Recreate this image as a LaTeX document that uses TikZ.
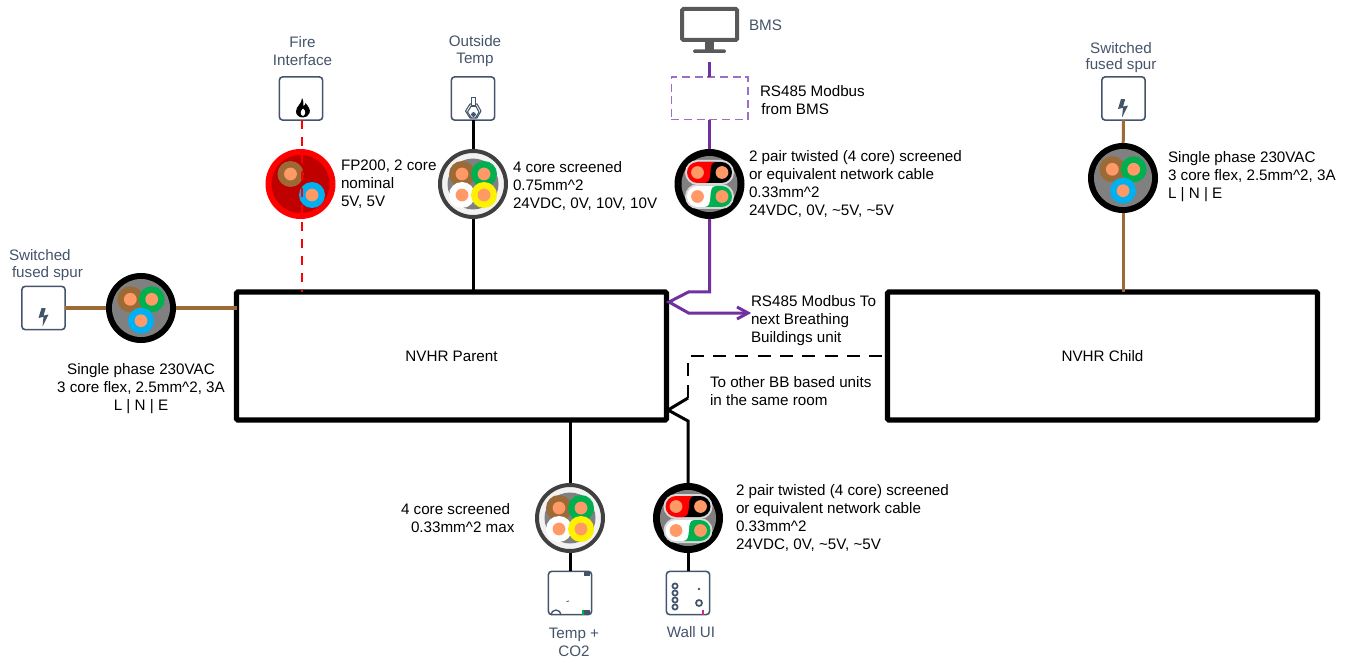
\documentclass[tikz,border=0pt]{standalone}
\usepackage{fontspec}
\setmainfont{Liberation Sans}
\definecolor{slate}{HTML}{44546A}
\definecolor{brn}{HTML}{9C6A36}
\definecolor{grn}{HTML}{00B050}
\definecolor{blu}{HTML}{00B0F0}
\definecolor{org}{HTML}{FF9966}
\definecolor{purp}{HTML}{7030A0}
\definecolor{lpurp}{HTML}{9A6FC4}
\definecolor{dred}{HTML}{C00000}
\definecolor{midg}{HTML}{808080}
\definecolor{ltg}{HTML}{F2F2F2}
\definecolor{capg}{HTML}{D9D9D9}
\definecolor{monc}{HTML}{595959}
\tikzset{
  every node/.style={font=\fontsize{11.4pt}{13.5pt}\selectfont, inner sep=0pt, outer sep=0pt},
  lbl/.style={anchor=west, align=left, text=black},
  lblc/.style={align=center, text=black},
  slbl/.style={align=center, text=slate},
  mainbox/.style={draw=black, line width=4pt, rounded corners=1pt, minimum width=322.5pt, minimum height=96pt},
  devbox/.style={draw=slate, line width=1.2pt, rounded corners=2.6pt, minimum width=32.5pt, minimum height=32.5pt},
  hub/.style={circle, minimum size=52.5pt},
  wbrown/.style={draw=brn, line width=2.25pt},
  wblack/.style={draw=black, line width=2.25pt},
  wpurple/.style={draw=purp, line width=2.25pt},
  wred/.style={draw=red, line width=1.5pt, dash pattern=on 6.75pt off 6pt},
  wdash/.style={draw=black, line width=1.5pt, dash pattern=on 9.75pt off 7pt},
  tinyic/.style={draw=slate, line width=.9pt},
}
\newcommand{\corewire}[3]{\fill[#3] (#1,#2) circle[radius=13];\fill[org] (#1,#2) circle[radius=6.4];}
\newcommand{\threecore}[3]{%
  \begin{scope}[shift={(#2,#3)}]
    \fill[black] (0,0) circle[radius=35];
    \fill[midg] (0,0) circle[radius=29];
    \corewire{-10.7}{-8.7}{brn}
    \corewire{10.7}{-8.7}{grn}
    \corewire{0}{12.7}{blu}
  \end{scope}
  \node[hub] (#1) at (#2,#3) {};}
\newcommand{\firecore}[3]{%
  \begin{scope}[shift={(#2,#3)}]
    \fill[red] (0,0) circle[radius=35];
    \fill[dred] (0,0) circle[radius=29];
    \corewire{-10}{-10}{brn}
    \corewire{11.5}{11}{blu}
  \end{scope}
  \node[hub] (#1) at (#2,#3) {};}
\newcommand{\fourcore}[3]{%
  \begin{scope}[shift={(#2,#3)}]
    \fill[ltg] (0,0) circle[radius=33];
    \draw[draw=black!75, line width=3pt] (0,0) circle[radius=33];
    \fill[midg] (0,0) circle[radius=25.5];
    \corewire{-11}{-10}{brn}
    \corewire{11}{-10}{grn}
    \corewire{-11}{11}{white}
    \corewire{11}{11}{yellow}
  \end{scope}
  \node[hub] (#1) at (#2,#3) {};}
\newcommand{\pairpart}[3]{% y-offset, left colour, right colour
  \fill[capg] (-12,#1-12.5) -- (12,#1-12.5) arc[start angle=-90,end angle=90,radius=12.5] -- (-12,#1+12.5) arc[start angle=90,end angle=270,radius=12.5] -- cycle;
  \fill[#3] (-12,#1-10.5) -- (12,#1-10.5) arc[start angle=-90,end angle=90,radius=10.5] -- (-12,#1+10.5) -- cycle;
  \fill[#2] (-12,#1-10.5) -- (6,#1-10.5) .. controls (-3,#1-10.5) and (5,#1+10.5) .. (-5,#1+10.5) -- (-12,#1+10.5) arc[start angle=90,end angle=270,radius=10.5] -- cycle;
  \fill[org] (-12,#1) circle[radius=6.4];
  \fill[org] (12.5,#1) circle[radius=6.4];}
\newcommand{\twisted}[3]{%
  \begin{scope}[shift={(#2,#3)}]
    \fill[black] (0,0) circle[radius=35];
    \fill[midg] (0,0) circle[radius=28];
    \pairpart{-11.5}{red}{black}
    \pairpart{12.5}{white}{grn}
  \end{scope}
  \node[hub] (#1) at (#2,#3) {};}
\newcommand{\boltat}[2]{%
  \begin{scope}[shift={(#1,#2)}]
    \fill[slate] (3,0) -- (0,10) -- (5,8.8) -- (4,18.5) -- (10,6.5) -- (5,7.6) -- (7.2,0.3) -- cycle;
  \end{scope}}
\begin{document}
\begin{tikzpicture}[x=.75pt,y=-.75pt]
\useasboundingbox (0,0) rectangle (1349,659);
% main boxes
\node[mainbox] (parent) at (451.5,356) {\raisebox{-1.1pt}{NVHR Parent}\hspace{3.5pt}};
\node[mainbox] (child) at (1102.5,356) {\raisebox{-1.1pt}{NVHR Child}\hspace{1.5pt}};
% device boxes
\node[devbox] (spurL) at (43.5,308) {};
\node[devbox] (fire) at (301,98.5) {};
\node[devbox] (otemp) at (473,98.5) {};
\node[devbox] (spurR) at (1123.5,98.5) {};
\node[devbox] (sensor) at (570,593) {};
\node[devbox] (wallui) at (688,593) {};
\node[draw=lpurp, line width=1pt, dash pattern=on 6pt off 3.5pt, minimum width=57.5pt, minimum height=32pt] (rsbox) at (709.5,98.5) {};
% cables
\threecore{cableL}{141}{308}
\firecore{cableF}{300.5}{184}
\fourcore{cableT}{473}{184}
\twisted{cableB}{709.5}{184}
\threecore{cableR}{1123}{178}
\fourcore{cableS}{570}{518}
\twisted{cableW}{688}{518}
% monitor
\node[minimum width=41.25pt, minimum height=23.25pt, draw=monc, line width=3pt, rounded corners=1pt] (bms) at (709.5,24.5) {};
\fill[monc] (705,42) rectangle (714,50);
\fill[monc, rounded corners=1pt] (693,49.5) rectangle (726,53);
\coordinate (bmsfoot) at (709.5,62);
% connectors
\draw[wbrown] (spurL) -- (cableL);
\draw[wbrown] (cableL) -- (cableL -| parent.west);
\draw[wbrown] (spurR) -- (cableR);
\draw[wbrown] (cableR) -- (cableR |- child.north);
\draw[wred] ([xshift=.75pt]fire.south) -- ([xshift=.75pt]fire.south |- parent.north);
\draw[wblack] (otemp) -- (cableT);
\draw[wblack] (cableT) -- (cableT |- parent.north);
\draw[wblack] (cableS |- parent.south) -- (cableS);
\draw[wblack] (cableS) -- (sensor);
\draw[wblack] (cableW) -- (wallui);
\coordinate (wtip) at (668,410);
\coordinate (wknee) at (688,421);
\draw[wblack, line join=miter] (wtip) -- (wknee) -- (cableW);
\coordinate (dknee) at (688,398);
\coordinate (dtop) at (688,356);
\draw[draw=black, line width=2.25pt] (wtip) -- (dknee);
\draw[wdash] (dknee) -- (dtop) -- (dtop -| child.west);
\draw[wpurple] (bmsfoot) -- (rsbox);
\draw[wpurple] (rsbox) -- (cableB);
\coordinate (ptop) at (709.5,292);
\coordinate (pk1) at (688.5,292);
\coordinate (ptip) at (669,302);
\coordinate (pk2) at (688.5,313);
\coordinate (pend) at (748,313);
\draw[wpurple] (cableB) -- (ptop) -- (pk1) -- (ptip) -- (pk2) -- (pend);
\draw[wpurple, line join=miter] (737,307) -- (pend) -- (737,319);
% icons
\boltat{38.5}{308}
\boltat{1118}{99}
\fill[black] (302,98) .. controls (304,101) and (303,104) .. (303.5,106) .. controls (305,105) and (305.5,104) .. (305.5,103)
  .. controls (308,106) and (311,110) .. (309.5,113) .. controls (308.5,116) and (306,117.5) .. (303,117.5)
  .. controls (299,117.5) and (296,115) .. (296,111.5) .. controls (296,106) and (302,104) .. cycle;
\fill[white] (303,108.5) .. controls (306,111) and (306,114) .. (303,116) .. controls (300,115) and (300,111) .. cycle;
\draw[slate, line width=.8pt, line join=round] (465.5,111) -- (470,104) -- (477,104) -- (481,111) -- (477,118) -- (470,118) -- cycle;
\draw[slate, line width=.8pt, fill=white] (471.2,106) -- (471.2,97.5) -- (475.8,97.5) -- (475.8,106) -- cycle;
\draw[slate, line width=.8pt] (471.2,106) -- (467.5,112) -- (471.5,118) (475.8,106) -- (479,112) -- (475.5,118);
\fill[slate] (473.5,114.5) circle[radius=2.4];
% sensor details
\draw[tinyic] (585,571) -- (585,576) (587,571) -- (587,576) (589,571) -- (589,576);
\draw[tinyic] (585,610) -- (585,615) (587,610) -- (587,615) (589,610) -- (589,615);
\fill[grn] (582,610) rectangle (584,615);
\draw[slate, line width=1pt] (551,615) arc[start angle=180,end angle=360,radius=5];
\draw[slate, line width=.6pt] (566.5,601.5) -- (569,601);
% wall UI details
\foreach \yy in {586,593,600,607} \draw[slate, line width=1.3pt] (675,\yy) circle[radius=2.6];
\fill[slate] (699,589) circle[radius=1.4];
\draw[slate, line width=1.3pt] (699,603) circle[radius=3];
\fill[magenta!70!purp] (701.5,610) rectangle (704,615);
% text
\node[slbl] (tFire) at (302.5,51) {Fire\\Interface};
\node[slbl] (tOut) at (475,51.5) {Outside\\[-.75pt]Temp};
\node[slbl, anchor=west, align=left] (tSpurL) at (9,265.5) {Switched\\[-.75pt]\hspace{2.25pt}fused spur};
\node[slbl] (tSpurR) at (1121,58) {Switched\\[-1.5pt]fused spur};
\node[anchor=west, text=slate] (tBMS) at (749,25) {BMS};
\node[slbl] (tTemp) at (574,642) {Temp +\\CO2};
\node[slbl] (tWall) at (691,632) {Wall UI};
\node[lblc] (t1) at (141,388.5) {Single phase 230VAC\\3 core flex, 2.5mm\textasciicircum 2, 3A\\L | N | E};
\node[lbl] (t2) at (341,184) {FP200, 2 core\\nominal\\5V, 5V};
\node[lbl] (t3) at (513,186) {4 core screened\\0.75mm\textasciicircum 2\\24VDC, 0V, 10V, 10V};
\node[lbl] (t4) at (760,100.5) {RS485 Modbus\\\hspace{1pt}from BMS};
\node[lbl] (t5) at (749,184) {2 pair twisted (4 core) screened\\or equivalent network cable\\0.33mm\textasciicircum 2\\24VDC, 0V, \textasciitilde 5V, \textasciitilde 5V};
\node[lbl] (t6) at (1168,177) {Single phase 230VAC\\3 core flex, 2.5mm\textasciicircum 2, 3A\\L | N | E};
\node[lbl] (t7) at (751,320.5) {RS485 Modbus To\\next Breathing\\Buildings unit};
\node[lbl] (t8) at (710,391.5) {To other BB based units\\in the same room};
\node[lbl] (t9) at (401,518) {4 core screened\\\hspace{7.5pt}0.33mm\textasciicircum 2 max};
\node[lbl] (t10) at (736,518) {2 pair twisted (4 core) screened\\or equivalent network cable\\0.33mm\textasciicircum 2\\24VDC, 0V, \textasciitilde 5V, \textasciitilde 5V};
\end{tikzpicture}
\end{document}
